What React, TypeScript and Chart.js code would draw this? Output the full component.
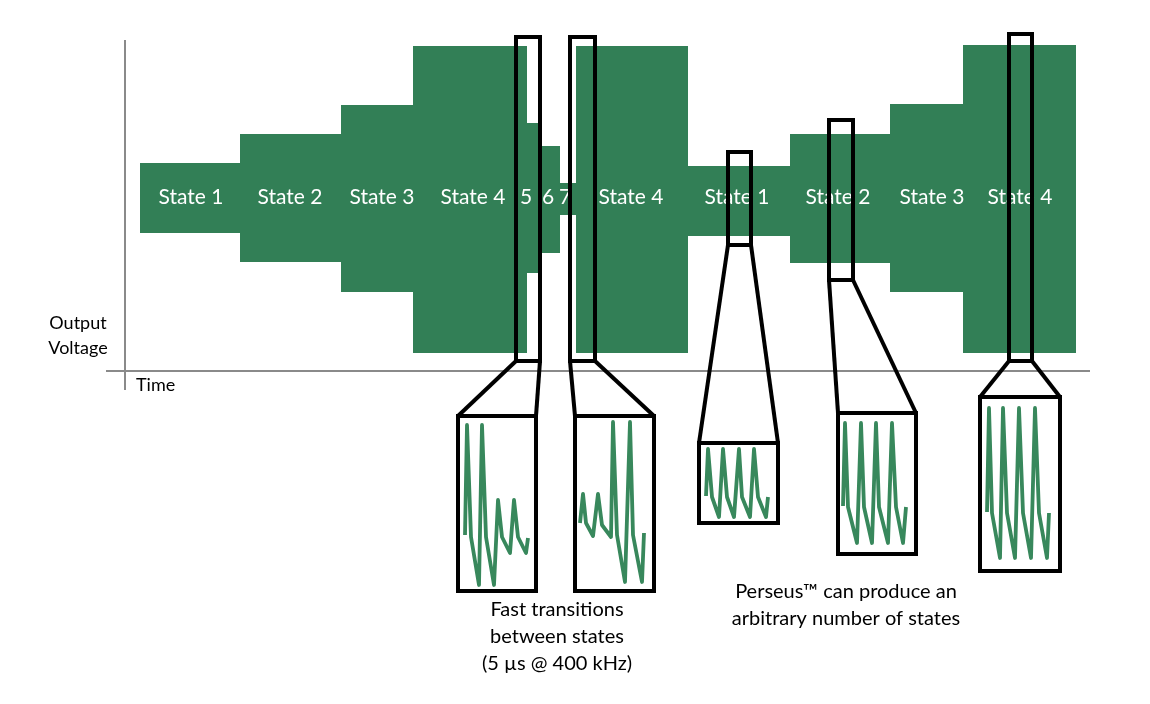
import React, { useEffect, useRef } from "react";
import { Chart, registerables } from "chart.js";

Chart.register(...registerables);

// ---- Diagram data (time on x, level on y; y grows downward) ----
const stateNames = ["State 1", "State 2", "State 3", "State 4", "5", "6", "7", "State 4", "State 1", "State 2", "State 3", "State 4"];
const stateStart = [140, 240, 341, 413, 527, 542, 560, 576, 688, 790, 890, 963];
const stateEnd = [240, 341, 413, 527, 542, 560, 576, 688, 790, 890, 963, 1076];
const stateHigh = [163, 134, 105, 46, 123, 146, 183, 46, 166, 134, 104, 45];
const stateLow = [233, 262, 292, 353, 273, 253, 215, 353, 236, 263, 292, 353];
const stateLabelAt = [191, 290, 382, 473, 526, 548, 565, 631, 737, 838, 932, 1020];
const stateLabelLevel = 197;

// zoom windows on the waveform
const windowStart = [516, 570, 728, 829, 1009];
const windowEnd = [540, 595, 751, 853, 1032];
const windowHigh = [37, 37, 152, 120, 34];
const windowLow = [361, 361, 245, 280, 361];

// magnified insets
const insetLeft = [458, 575, 699, 838, 980];
const insetRight = [536, 654, 778, 916, 1060];
const insetTop = [416, 416, 443, 413, 397];
const insetBottom = [591, 591, 523, 554, 571];

// waveform traces inside each inset
const waveAx = [465, 467, 471, 479, 482, 486, 494, 498, 502, 510, 514, 518, 526, 528];
const waveAy = [535, 425, 537, 585, 425, 537, 585, 500, 537, 553, 500, 537, 553, 538];
const waveBx = [580, 583, 586, 593, 598, 602, 611, 613, 617, 625, 630, 633, 642, 644];
const waveBy = [523, 494, 523, 536, 494, 525, 537, 422, 535, 582, 422, 535, 582, 533];
const waveCx = [706, 708, 712, 719, 723, 727, 734, 739, 742, 750, 754, 758, 766, 768];
const waveCy = [496, 449, 497, 517, 449, 497, 517, 449, 497, 517, 449, 497, 517, 497];
const waveDx = [843, 845, 848, 857, 861, 864, 872, 876, 879, 888, 892, 896, 903, 906];
const waveDy = [506, 423, 507, 543, 423, 507, 543, 423, 507, 543, 423, 507, 543, 507];
const waveEx = [987, 989, 992, 1000, 1003, 1007, 1015, 1019, 1023, 1031, 1035, 1039, 1047, 1049];
const waveEy = [512, 408, 513, 558, 408, 513, 558, 408, 513, 558, 408, 513, 558, 513];

// axes
const vAxisX = 125;
const vAxisRange = [40, 390];
const hAxisY = 371;
const hAxisRange = [106, 1090];

// annotations
const yAxisTitle = ["Output", "Voltage"];
const yAxisTitleAt = [78, 323];
const xAxisTitle = "Time";
const xAxisTitleAt = [136, 385];
const leftCaption = ["Fast transitions", "between states", "(5 µs @ 400 kHz)"];
const leftCaptionAt = [557, 610];
const rightCaption = ["Perseus™ can produce an", "arbitrary number of states"];
const rightCaptionAt = [846, 592];

const GREEN = "#327f56";
const WAVE = "#38885c";
const FONT = "Lato, 'Open Sans', sans-serif";

function pts(xs: number[], ys: number[]) {
  return xs.map((x, i) => ({ x, y: ys[i] }));
}

export default function App() {
  const ref = useRef<HTMLCanvasElement | null>(null);

  useEffect(() => {
    if (!ref.current) return;

    const band: { x: number; y: number }[] = [];
    for (let i = 0; i < stateStart.length; i++) {
      band.push({ x: stateStart[i], y: stateHigh[i] }, { x: stateEnd[i], y: stateHigh[i] });
    }
    for (let i = stateStart.length - 1; i >= 0; i--) {
      band.push({ x: stateEnd[i], y: stateLow[i] }, { x: stateStart[i], y: stateLow[i] });
    }

    const base = { showLine: true, pointRadius: 0, pointHoverRadius: 0, fill: false } as any;
    const datasets: any[] = [
      { ...base, data: band, fill: "shape", backgroundColor: GREEN, borderColor: "rgba(0,0,0,0)", borderWidth: 1, order: 20 },
      { ...base, data: [{ x: vAxisX, y: vAxisRange[0] }, { x: vAxisX, y: vAxisRange[1] }], borderColor: "#8a8a8a", borderWidth: 2, order: 15 },
      { ...base, data: [{ x: hAxisRange[0], y: hAxisY }, { x: hAxisRange[1], y: hAxisY }], borderColor: "#8a8a8a", borderWidth: 2, order: 15 },
    ];

    const waves = [pts(waveAx, waveAy), pts(waveBx, waveBy), pts(waveCx, waveCy), pts(waveDx, waveDy), pts(waveEx, waveEy)];
    waves.forEach((w) => {
      datasets.push({ ...base, data: w, borderColor: WAVE, borderWidth: 3.8, borderJoinStyle: "round", borderCapStyle: "butt", order: 10 });
    });

    for (let i = 0; i < windowStart.length; i++) {
      const box = [
        { x: windowStart[i], y: windowHigh[i] },
        { x: windowEnd[i], y: windowHigh[i] },
        { x: windowEnd[i], y: windowLow[i] },
        { x: windowStart[i], y: windowLow[i] },
        { x: windowStart[i], y: windowHigh[i] },
        { x: windowEnd[i], y: windowHigh[i] },
      ];
      const inset = [
        { x: insetLeft[i], y: insetTop[i] },
        { x: insetRight[i], y: insetTop[i] },
        { x: insetRight[i], y: insetBottom[i] },
        { x: insetLeft[i], y: insetBottom[i] },
        { x: insetLeft[i], y: insetTop[i] },
        { x: insetRight[i], y: insetTop[i] },
      ];
      const conL = [{ x: windowStart[i], y: windowLow[i] }, { x: insetLeft[i], y: insetTop[i] }];
      const conR = [{ x: windowEnd[i], y: windowLow[i] }, { x: insetRight[i], y: insetTop[i] }];
      [box, inset, conL, conR].forEach((d) => {
        datasets.push({ ...base, data: d, borderColor: "#000", borderWidth: 4, borderJoinStyle: "miter", order: 1 });
      });
    }

    const textPlugin = {
      id: "diagramText",
      afterDatasetDraw(chart: any, args: any) {
        if (args.index !== 0) return;
        const { ctx, scales } = chart;
        const x = scales.x, y = scales.y;
        ctx.save();
        ctx.fillStyle = "#ffffff";
        ctx.font = `21px ${FONT}`;
        ctx.textAlign = "center";
        ctx.textBaseline = "middle";
        stateNames.forEach((n, i) => {
          ctx.fillText(n, x.getPixelForValue(stateLabelAt[i]), y.getPixelForValue(stateLabelLevel));
        });
        ctx.restore();
      },
      afterDraw(chart: any) {
        const { ctx, scales } = chart;
        const x = scales.x, y = scales.y;
        ctx.save();
        ctx.fillStyle = "#000";
        ctx.textBaseline = "middle";
        ctx.font = `18px ${FONT}`;
        ctx.textAlign = "center";
        yAxisTitle.forEach((t, i) => {
          ctx.fillText(t, x.getPixelForValue(yAxisTitleAt[0]), y.getPixelForValue(yAxisTitleAt[1] + i * 25));
        });
        ctx.textAlign = "left";
        ctx.fillText(xAxisTitle, x.getPixelForValue(xAxisTitleAt[0]), y.getPixelForValue(xAxisTitleAt[1]));
        ctx.font = `20px ${FONT}`;
        ctx.textAlign = "center";
        leftCaption.forEach((t, i) => {
          ctx.fillText(t, x.getPixelForValue(leftCaptionAt[0]), y.getPixelForValue(leftCaptionAt[1] + i * 27));
        });
        rightCaption.forEach((t, i) => {
          ctx.fillText(t, x.getPixelForValue(rightCaptionAt[0]), y.getPixelForValue(rightCaptionAt[1] + i * 27));
        });
        ctx.restore();
      },
    };

    const chart = new Chart(ref.current, {
      type: "scatter",
      data: { datasets },
      options: {
        animation: false,
        responsive: false,
        devicePixelRatio: 1,
        layout: { padding: 0 },
        events: [],
        plugins: { legend: { display: false }, tooltip: { enabled: false } },
        scales: {
          x: { type: "linear", min: 0, max: 1150, display: false },
          y: { type: "linear", min: 0, max: 704, reverse: true, display: false },
        },
      },
      plugins: [textPlugin],
    });
    return () => chart.destroy();
  }, []);

  return (
    <div style={{ position: "fixed", left: 0, top: 0, width: 1150, height: 704, background: "#fff" }}>
      <canvas ref={ref} width={1150} height={704} style={{ width: 1150, height: 704, display: "block" }} />
    </div>
  );
}
